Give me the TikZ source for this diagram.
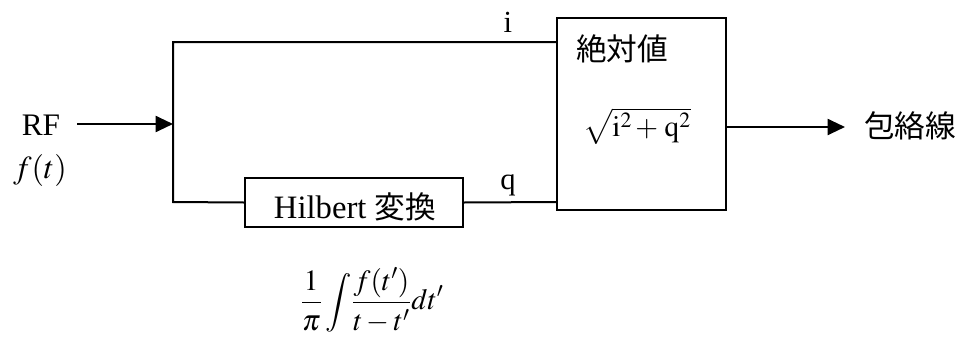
\documentclass[tikz,border=0pt]{standalone}
\usepackage{mathptmx}
\usepackage{fontspec}
\setmainfont{Liberation Serif}
\newfontfamily\jp{Noto Sans CJK JP}
\usetikzlibrary{arrows.meta}
\begin{document}
\begin{tikzpicture}[x=0.75pt,y=-0.75pt,
  wire/.style={line width=1.5pt},
  arr/.style={wire,-{Triangle[length=13pt,width=12pt]}},
  blk/.style={draw,line width=1.5pt,inner sep=0pt},
  txt/.style={font=\fontsize{21}{25}\selectfont,inner sep=0pt},
  jtxt/.style={font=\jp\fontsize{23}{27}\selectfont,inner sep=0pt}]
\useasboundingbox (0,0) rectangle (960,336);
% labels
\node[txt,font=\fontsize{23.5}{28}\selectfont] (rf) at (41,125) {RF};
\node[txt,font=\fontsize{24}{28}\selectfont] (ft) at (40,170) {$f(t)$};
\coordinate (rfend) at (77,124);
\coordinate (split) at (173,124);
\coordinate (top) at (173,42);
\coordinate (bot) at (173,202);
% blocks
\node[blk,minimum width=163.5pt,minimum height=36.75pt] (hil) at (354,202.5) {};
\node[txt,font=\fontsize{24.5}{28}\selectfont] (hiltxt) at (355,207) {Hilbert {\jp\fontsize{23}{28}\selectfont 変換}};
\node[blk,minimum width=126.75pt,minimum height=144pt] (abs) at (641.5,114) {};
\node[jtxt] (abstxt) at (622,49) {絶対値};
\node[txt,font=\fontsize{22}{26}\selectfont] (sq) at (637,126) {$\sqrt{\mathrm{i}^{2}\!\;{+}\;\mathrm{q}^{2}}$};
\coordinate (absin1) at (557,42);
\coordinate (absin2) at (557,202);
\coordinate (absout) at (726,127);
\coordinate (outend) at (845,127);
\node[jtxt,anchor=west] (env) at (864,126) {包絡線};
% wires
\draw[arr] (rfend) -- (split);
\draw[wire] (absin1) -- (top) -- (bot) -- (hil.west);
\draw[wire] (hil.east) -- (absin2);
\draw[arr] (absout) -- (outend);
\node[txt,font=\fontsize{23}{27}\selectfont] (ilab) at (508,22) {i};
\node[txt,font=\fontsize{23}{27}\selectfont] (qlab) at (508,185) {q};
\node[txt,font=\fontsize{22}{26}\selectfont] (formula) at (372,300) {$\displaystyle\frac{1}{\pi}\int\!\frac{f(t')}{t-t'}dt'$};
\end{tikzpicture}
\end{document}
